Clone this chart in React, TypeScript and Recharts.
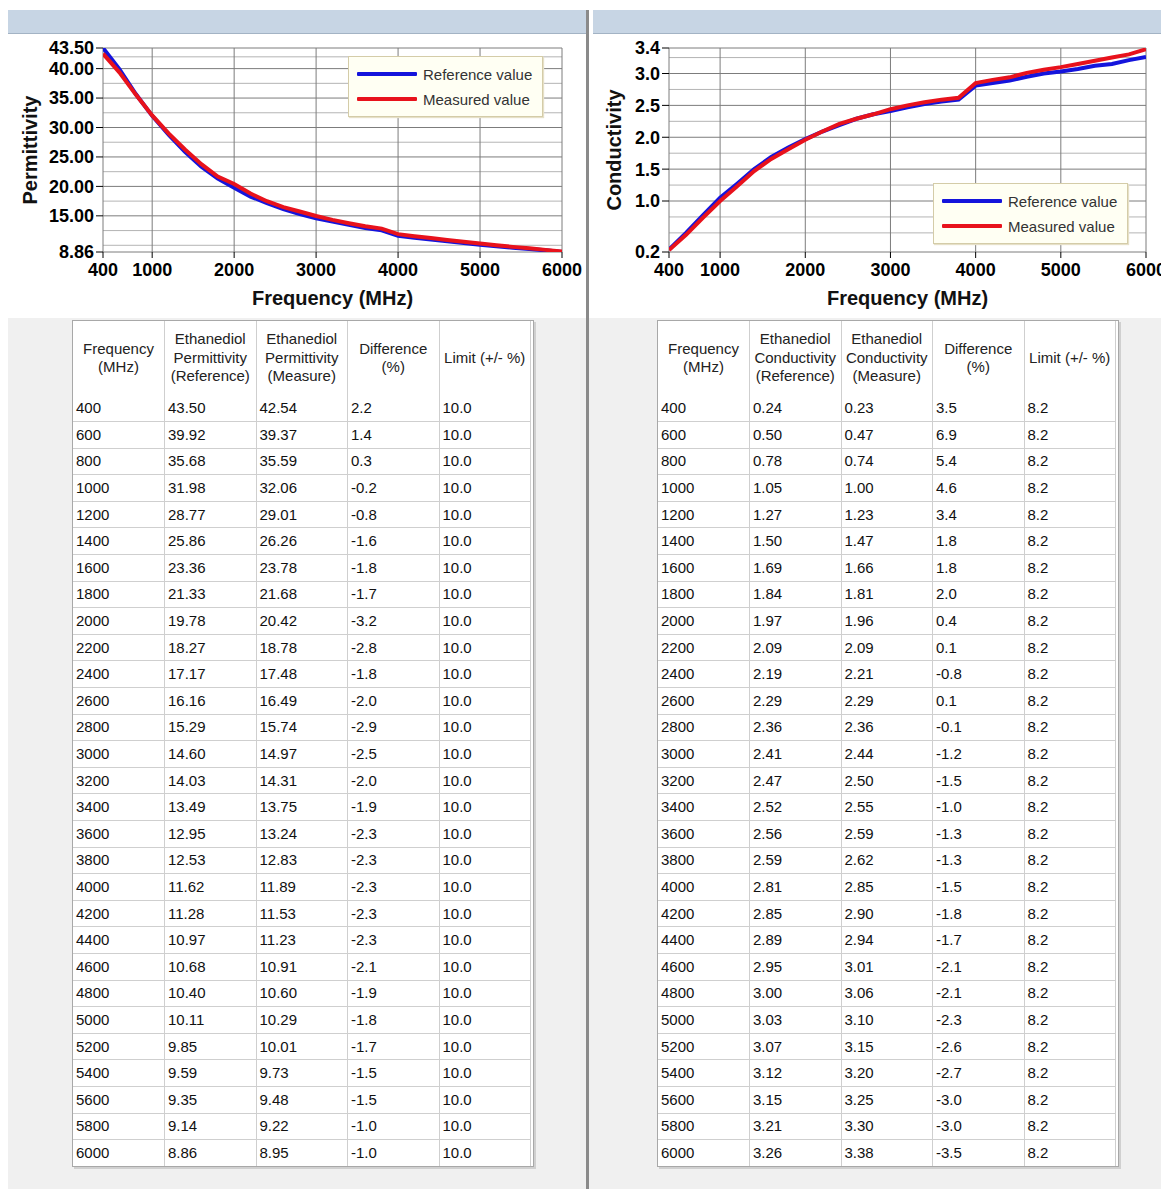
import React from 'react';
import { LineChart, Line, XAxis, YAxis, CartesianGrid, Legend } from 'recharts';

const freqs = [400, 600, 800, 1000, 1200, 1400, 1600, 1800, 2000, 2200, 2400, 2600, 2800, 3000, 3200, 3400, 3600, 3800, 4000, 4200, 4400, 4600, 4800, 5000, 5200, 5400, 5600, 5800, 6000];

const permRef = [43.50, 39.92, 35.68, 31.98, 28.77, 25.86, 23.36, 21.33, 19.78, 18.27, 17.17, 16.16, 15.29, 14.60, 14.03, 13.49, 12.95, 12.53, 11.62, 11.28, 10.97, 10.68, 10.40, 10.11, 9.85, 9.59, 9.35, 9.14, 8.86];
const permMeas = [42.54, 39.37, 35.59, 32.06, 29.01, 26.26, 23.78, 21.68, 20.42, 18.78, 17.48, 16.49, 15.74, 14.97, 14.31, 13.75, 13.24, 12.83, 11.89, 11.53, 11.23, 10.91, 10.60, 10.29, 10.01, 9.73, 9.48, 9.22, 8.95];
const permDiff = ['2.2', '1.4', '0.3', '-0.2', '-0.8', '-1.6', '-1.8', '-1.7', '-3.2', '-2.8', '-1.8', '-2.0', '-2.9', '-2.5', '-2.0', '-1.9', '-2.3', '-2.3', '-2.3', '-2.3', '-2.3', '-2.1', '-1.9', '-1.8', '-1.7', '-1.5', '-1.5', '-1.0', '-1.0'];
const permLimit = '10.0';

const condRef = [0.24, 0.50, 0.78, 1.05, 1.27, 1.50, 1.69, 1.84, 1.97, 2.09, 2.19, 2.29, 2.36, 2.41, 2.47, 2.52, 2.56, 2.59, 2.81, 2.85, 2.89, 2.95, 3.00, 3.03, 3.07, 3.12, 3.15, 3.21, 3.26];
const condMeas = [0.23, 0.47, 0.74, 1.00, 1.23, 1.47, 1.66, 1.81, 1.96, 2.09, 2.21, 2.29, 2.36, 2.44, 2.50, 2.55, 2.59, 2.62, 2.85, 2.90, 2.94, 3.01, 3.06, 3.10, 3.15, 3.20, 3.25, 3.30, 3.38];
const condDiff = ['3.5', '6.9', '5.4', '4.6', '3.4', '1.8', '1.8', '2.0', '0.4', '0.1', '-0.8', '0.1', '-0.1', '-1.2', '-1.5', '-1.0', '-1.3', '-1.3', '-1.5', '-1.8', '-1.7', '-2.1', '-2.1', '-2.3', '-2.6', '-2.7', '-3.0', '-3.0', '-3.5'];
const condLimit = '8.2';

const xTicks = [400, 1000, 2000, 3000, 4000, 5000, 6000];
const permYTicks = [8.86, 15, 20, 25, 30, 35, 40, 43.5];
const permYMinor = [10, 12.5, 17.5, 22.5, 27.5, 32.5, 37.5, 42];
const condYTicks = [0.2, 1.0, 1.5, 2.0, 2.5, 3.0, 3.4];
const condYMinor = [0.5, 0.75, 1.25, 1.75, 2.25, 2.75, 3.25];

const legendOrder = ['Reference value', 'Measured value'];

const permHeaders = [['Frequency', '(MHz)'], ['Ethanediol', 'Permittivity', '(Reference)'], ['Ethanediol', 'Permittivity', '(Measure)'], ['Difference', '(%)'], ['Limit (+/- %)']];
const condHeaders = [['Frequency', '(MHz)'], ['Ethanediol', 'Conductivity', '(Reference)'], ['Ethanediol', 'Conductivity', '(Measure)'], ['Difference', '(%)'], ['Limit (+/- %)']];

const BLUE = '#1414dc';
const RED = '#e8121c';
const FONT = 'Arial, "Liberation Sans", sans-serif';

const LegendBox = (props: any) => {
  const items = [...(props.payload || [])].sort((a: any, b: any) => legendOrder.indexOf(a.value) - legendOrder.indexOf(b.value));
  return (
    <div style={{ position: 'relative', width: 195, height: 61, boxSizing: 'border-box', background: '#fffff3', border: '1px solid #d4cca8', boxShadow: '1px 1px 1px #e6e0c8', fontFamily: FONT }}>
      {items.map((p: any, i: number) => (
        <div key={i} style={{ position: 'absolute', left: 8, top: 8 + i * 25, height: 18, display: 'flex', alignItems: 'center' }}>
          <div style={{ width: 60, height: 4, background: p.color, borderRadius: 1 }} />
          <span style={{ marginLeft: 6, fontSize: 15, color: '#333', whiteSpace: 'nowrap' }}>{p.value}</span>
        </div>
      ))}
    </div>
  );
};

type ChartProps = {
  left: number; width: number; yWidth: number; rightMargin: number;
  refVals: number[]; measVals: number[];
  domain: [number, number]; yTicks: number[]; yMinor: number[]; digits: number;
  yLabel: string; yLabelOffset: number; legendTop: number;
};

const Chart = (p: ChartProps) => {
  const data = freqs.map((f, i) => ({ f, ref: p.refVals[i], meas: p.measVals[i] }));
  const tickStyle = { fontSize: 18, fontWeight: 'bold' as const, fill: '#000', fontFamily: FONT };
  return (
    <div style={{ position: 'absolute', left: p.left, top: 30 }}>
      <LineChart width={p.width} height={290} data={data} margin={{ top: 18, right: p.rightMargin, left: 0, bottom: 0 }}>
        <CartesianGrid horizontalValues={p.yMinor} vertical={false} stroke="#b4b4b4" strokeWidth={1} />
        <CartesianGrid stroke="#7c7c7c" strokeWidth={1} />
        <XAxis dataKey="f" type="number" domain={[400, 6000]} ticks={xTicks} allowDataOverflow
          tick={tickStyle} tickLine={{ stroke: '#000' }} tickSize={6} tickMargin={5} axisLine={false} height={68}
          interval={0}
          label={{ value: 'Frequency (MHz)', position: 'insideBottom', offset: 15, style: { fontSize: 20, fontWeight: 'bold', fill: '#111', fontFamily: FONT } }} />
        <YAxis type="number" domain={p.domain} ticks={p.yTicks} allowDataOverflow interval={0}
          tick={tickStyle} tickLine={{ stroke: '#000' }} tickSize={7} tickMargin={2} axisLine={false} width={p.yWidth}
          tickFormatter={(v: number) => v.toFixed(p.digits)}
          label={{ value: p.yLabel, angle: -90, position: 'insideLeft', offset: p.yLabelOffset, style: { textAnchor: 'middle', fontSize: 20, fontWeight: 'bold', fill: '#111', fontFamily: FONT } }} />
        <Legend content={LegendBox} layout="horizontal" verticalAlign="middle" align="center"
          wrapperStyle={{ left: 340, top: p.legendTop, width: 195, height: 61 }} />
        <Line type="linear" dataKey="ref" name="Reference value" stroke={BLUE} strokeWidth={4} dot={false} isAnimationActive={false} />
        <Line type="linear" dataKey="meas" name="Measured value" stroke={RED} strokeWidth={4} dot={false} isAnimationActive={false} />
      </LineChart>
    </div>
  );
};

type TableProps = { left: number; headers: string[][]; refVals: number[]; measVals: number[]; diffs: string[]; limit: string };

const DataTable = (p: TableProps) => {
  const colW = 91.3;
  const cellBase: React.CSSProperties = { width: colW, boxSizing: 'border-box', borderRight: '1px solid #cfcfcf', padding: 0 };
  return (
    <div style={{ position: 'absolute', left: p.left, top: 320, width: 460, border: '1px solid #a8a8a8', boxShadow: '2px 2px 0 #d0d0d0', background: '#fff', fontFamily: FONT }}>
      <table style={{ borderCollapse: 'collapse', tableLayout: 'fixed', width: 458 }}>
        <tbody>
          <tr style={{ height: 74 }}>
            {p.headers.map((h, i) => (
              <td key={i} style={{ ...cellBase, textAlign: 'center', verticalAlign: 'middle', fontSize: 15, lineHeight: '18.5px', color: '#222' }}>
                {h.map((line, j) => <div key={j}>{line}</div>)}
              </td>
            ))}
          </tr>
          {freqs.map((f, r) => {
            const cells = [String(f), p.refVals[r].toFixed(2), p.measVals[r].toFixed(2), p.diffs[r], p.limit];
            return (
              <tr key={f} style={{ height: 26.6 }}>
                {cells.map((c, i) => (
                  <td key={i} style={{ ...cellBase, borderBottom: r === freqs.length - 1 ? 'none' : '1px solid #cfcfcf', fontSize: 15, color: '#111', paddingLeft: 3, verticalAlign: 'middle', lineHeight: '18px' }}>{c}</td>
                ))}
              </tr>
            );
          })}
        </tbody>
      </table>
    </div>
  );
};

export default function App() {
  return (
    <div style={{ position: 'absolute', left: 0, top: 0, width: 1161, height: 1189, background: '#fff', overflow: 'hidden', fontFamily: FONT }}>
      <div style={{ position: 'absolute', left: 8, top: 10, width: 578, height: 23, background: '#c7d5e4', borderBottom: '1px solid #a3b3c4' }} />
      <div style={{ position: 'absolute', left: 593, top: 10, width: 568, height: 23, background: '#c7d5e4', borderBottom: '1px solid #a3b3c4' }} />
      <div style={{ position: 'absolute', left: 8, top: 318, width: 578, height: 871, background: '#f0f0f0' }} />
      <div style={{ position: 'absolute', left: 589, top: 318, width: 572, height: 871, background: '#f0f0f0' }} />
      <div style={{ position: 'absolute', left: 586, top: 10, width: 3, height: 1179, background: '#8a8a8a' }} />
      <Chart left={8} width={578} yWidth={95} rightMargin={24} refVals={permRef} measVals={permMeas}
        domain={[8.86, 43.5]} yTicks={permYTicks} yMinor={permYMinor} digits={2} yLabel="Permittivity" yLabelOffset={22} legendTop={26} />
      <Chart left={593} width={568} yWidth={76} rightMargin={15} refVals={condRef} measVals={condMeas}
        domain={[0.2, 3.4]} yTicks={condYTicks} yMinor={condYMinor} digits={1} yLabel="Conductivity" yLabelOffset={21} legendTop={153} />
      <DataTable left={72} headers={permHeaders} refVals={permRef} measVals={permMeas} diffs={permDiff} limit={permLimit} />
      <DataTable left={657} headers={condHeaders} refVals={condRef} measVals={condMeas} diffs={condDiff} limit={condLimit} />
    </div>
  );
}
